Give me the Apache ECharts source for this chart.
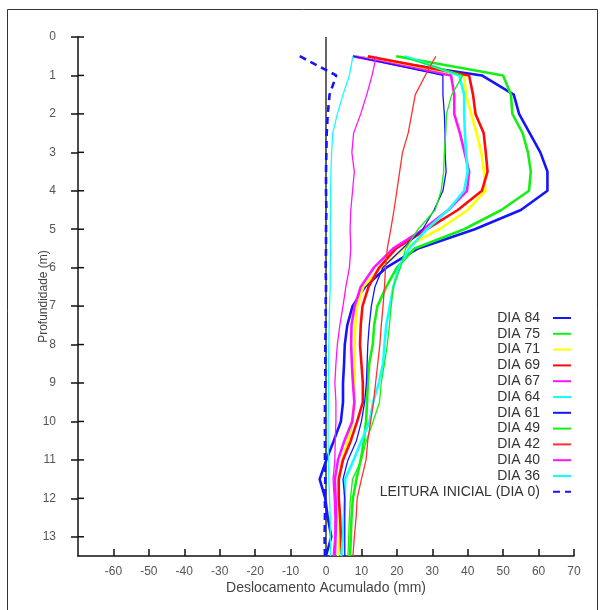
<!DOCTYPE html>
<html>
<head>
<meta charset="utf-8">
<script src="https://cdn.jsdelivr.net/npm/echarts@6/dist/echarts.min.js"></script>
<style>html,body{margin:0;padding:0;background:#fff}#c{width:605px;height:610px}</style>
</head>
<body>
<div id="c"></div>
<script>
const depths = [0.5,1,1.5,2,2.5,3,3.5,4,4.5,5,5.5,6,6.5,7,7.5,8,8.5,9,9.5,10,10.5,11,11.5,12,12.5,13,13.5];
const dia84 = [7.6,44,53,54.5,57.5,60.5,62.5,62.5,55,42,26,17,11,7.5,6,5.3,5.1,4.8,4.8,4.2,2.2,0.1,-1.8,-0.2,0.5,1.5,0];
const dia75 = [19.8,50,52.2,52.6,55.5,57,57.8,57.3,49.5,39,25,20,17,14.5,13.6,13.2,12.2,11.8,11.6,11.3,10.7,9.8,8.6,7.6,7.2,7,6.8];
const dia71 = [7.8,39,39.5,41,42.5,43.8,44.6,45,40,32,22,15.5,10.5,8.8,8.3,8.1,8.1,8.1,8,7.5,6.2,4.6,3.6,3.5,3.8,3.9,3.4];
const dia69 = [11.8,40.4,41.5,42.2,44.5,45.1,45.6,44,37.2,28.5,19.8,15,12,10.3,9.8,9.6,10,10.4,10.4,8.8,7,4.8,3.6,3.6,4,4.2,4.3];
const dia67 = [7.6,35.3,36.2,36.2,37.8,39.1,40.4,39.8,34.5,27.5,19,13.5,9.8,8.1,7.2,7.1,7.3,7.6,8,7.4,5.2,3.4,2.5,2.7,2.9,2.7,2.5];
const dia64 = [22.2,37.6,39,39,39.2,39.5,40,39,34.5,28.5,23.5,20.5,19,18,17,16.5,16.1,14.9,13.3,12.3,10,7.8,5.4,5.3,5,4.8,4.3];
const dia61 = [7.6,33,33,33.4,33.6,33.6,33.9,33,30.5,27.3,21.6,16,13.8,12.8,12.2,11.8,11.6,11.4,10.9,10,8.6,6.2,4.8,5.3,5.3,5.3,5.3];
const dia49 = [21,38.6,35.5,34,33.8,33.4,33.2,32.5,30.8,26,22.5,21,19,18.4,17.9,17.3,16.5,15.6,15.1,13.3,11.4,10,7.5,6.9,6.6,6.4,6.2];
const dia42 = [31,28,25.2,24.2,23.2,21.6,20.8,20,19.2,18.3,17.3,16.8,16.5,16.1,15.6,15.2,14.6,14,13.4,12.6,11.8,11.3,10,8.8,8.5,8,7.6];
const dia40 = [14.2,13,11.5,9.8,7.8,7.3,8,7.5,7,6.8,7,6.6,5.6,4.8,3.9,3.2,2.8,2.5,2.8,2.8,2.6,2.5,2,2.3,2.5,2.5,2];
const dia36 = [7.6,6.6,4.8,3.2,1.9,1.6,1.4,1.3,1.3,1.2,1.3,1.2,1.2,1,0.9,0.8,0.7,0.7,0.7,0.6,0.6,0.7,0.8,1,1.2,1.2,1.3];
const dia0  = [-7.4,2.9,1,0.5,0.2,0.1,0,0,0.1,0,0,-0.1,0,-0.1,-0.1,-0.2,-0.2,-0.2,-0.3,-0.3,-0.3,-0.3,-0.2,-0.3,-0.3,-0.4,-0.3];
const zeroLine = [[0,0],[0,13.5]];
const yTicks = [0,1,2,3,4,5,6,7,8,9,10,11,12,13];
const seriesNames = ['DIA 84','DIA 75','DIA 71','DIA 69','DIA 67','DIA 64','DIA 61','DIA 49','DIA 42','DIA 40','DIA 36','LEITURA INICIAL (DIA 0)'];
const seriesValues = [dia84,dia75,dia71,dia69,dia67,dia64,dia61,dia49,dia42,dia40,dia36,dia0];

const BLUE='#1414ff', GREEN='#14f014', YELLOW='#ffff00', RED='#ff0a0a', MAGENTA='#ff14ff', CYAN='#14ffff';
const styles = [
  {color:BLUE,width:2.6},{color:GREEN,width:2.6},{color:YELLOW,width:2.6},{color:RED,width:2.6},
  {color:MAGENTA,width:2.6},{color:CYAN,width:2.6},{color:BLUE,width:1.3},{color:GREEN,width:1.3},
  {color:'#ff3030',width:1.3},{color:MAGENTA,width:1.3},{color:CYAN,width:1.3},{color:BLUE,width:2.6,type:[7,5]}
];
const FONT = 'Liberation Sans, Arial, sans-serif';
const AX = {color:'#111', width:1.5};
const X_MIN = -70;

const series = [{
  type:'line', name:'zero', data: zeroLine, symbol:'none', silent:true,
  lineStyle:{color:'#111', width:1.3}, z:1
},{
  // inner half of the y-axis ticks (ticks cross the axis line)
  type:'custom', name:'ytick-inner', silent:true, clip:false, z:3,
  data: yTicks.map(v=>[X_MIN, v]),
  renderItem: function(params, api){
    const p = api.coord([api.value(0), api.value(1)]);
    return {type:'line', shape:{x1:p[0], y1:p[1], x2:p[0]+6, y2:p[1]}, style:{stroke:'#111', lineWidth:1.5}};
  }
}];
seriesNames.forEach((n,i)=>{
  series.push({
    type:'line', name:n, symbol:'none', showSymbol:false,
    data: depths.map((d,k)=>[seriesValues[i][k], d]),
    lineStyle:{color:styles[i].color, width:styles[i].width, type:styles[i].type||'solid'},
    itemStyle:{color:styles[i].color}, z:2
  });
});

const chart = echarts.init(document.getElementById('c'), null, {renderer:'canvas'});
chart.setOption({
  animation:false,
  backgroundColor:'#fff',
  graphic:[{type:'rect', shape:{x:7.5,y:9.5,width:590,height:620}, style:{fill:null, stroke:'#333', lineWidth:1}, silent:true}],
  grid:{left:78, right:31, top:37, bottom:54, containLabel:false},
  legend:{
    orient:'vertical', right:28, top:306, align:'right',
    itemWidth:18, itemHeight:14, itemGap:1.8,
    itemStyle:{opacity:0, color:'rgba(0,0,0,0)', borderWidth:0},
    textStyle:{fontSize:14, color:'#333', fontFamily:FONT, padding:[0,8,0,0], lineHeight:14},
    data: seriesNames
  },
  xAxis:{
    type:'value', min:X_MIN, max:70, interval:10,
    axisLine:{show:true, onZero:false, lineStyle:AX},
    axisTick:{show:true, inside:true, length:7, lineStyle:AX},
    axisLabel:{showMinLabel:false, margin:10, fontSize:12, color:'#555', fontFamily:FONT},
    splitLine:{show:false},
    name:'Deslocamento Acumulado (mm)', nameLocation:'middle', nameGap:25, nameMoveOverlap:false,
    nameTextStyle:{fontSize:14, color:'#444', fontFamily:FONT}
  },
  yAxis:{
    type:'value', inverse:true, min:0, max:13.5, interval:1, position:'left',
    axisLine:{show:true, onZero:false, lineStyle:AX},
    axisTick:{show:true, length:7, customValues:yTicks, lineStyle:AX},
    axisLabel:{margin:22, customValues:yTicks, fontSize:12, color:'#555', fontFamily:FONT},
    splitLine:{show:false},
    name:'Profundidade (m)', nameLocation:'middle', nameGap:28, nameMoveOverlap:false,
    nameTextStyle:{fontSize:12, color:'#444', fontFamily:FONT}
  },
  series: series
});
</script>
</body>
</html>
